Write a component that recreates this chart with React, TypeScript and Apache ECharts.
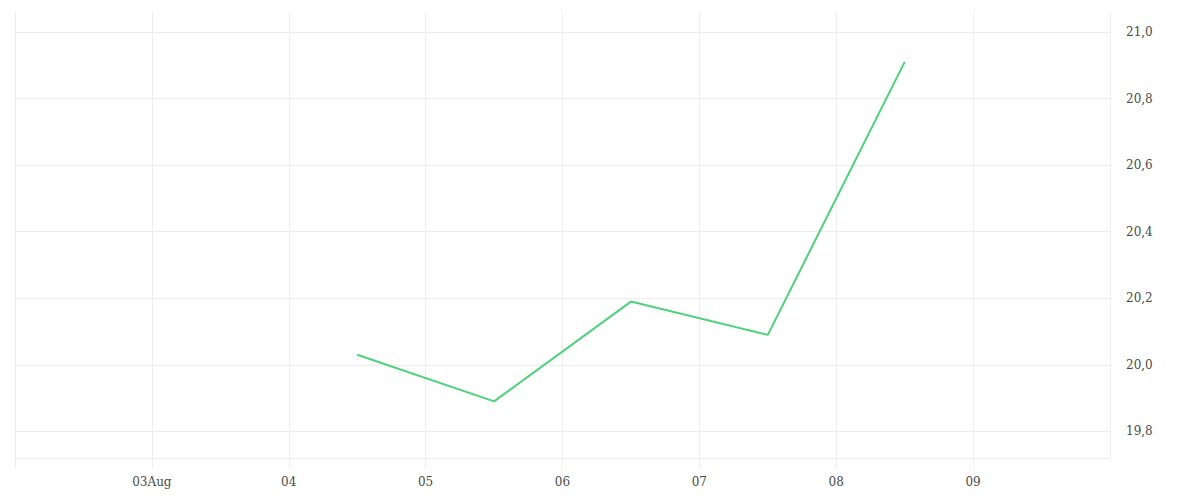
import React, { useEffect, useRef } from 'react'
import * as echarts from 'echarts'

// price points, taken at midday of each day
const pointTimes = ['2024-08-04 12:00', '2024-08-05 12:00', '2024-08-06 12:00', '2024-08-07 12:00', '2024-08-08 12:00']
const values = [20.03, 19.89, 20.19, 20.09, 20.91]

// visible range of the axes
const xStart = new Date(2024, 7, 2).getTime()
const xEnd = new Date(2024, 7, 10).getTime()
const firstLabelDay = new Date(2024, 7, 3).getTime()
const monthName = 'Aug'
const yMin = 19.72
const yMax = 21.06

const DAY = 24 * 3600 * 1000
const GRID_COLOR = '#eeeeee'
const LABEL_COLOR = '#4a4a4a'
const FONT = 'DejaVu Serif, serif'

const App: React.FC = () => {
    const chartRef = useRef<HTMLDivElement | null>(null)

    useEffect(() => {
        document.body.style.margin = '0'
        if (!chartRef.current) return
        const chart = echarts.init(chartRef.current, undefined, { renderer: 'svg' })

        chart.setOption({
            animation: false,
            grid: { left: 15, right: 90, top: 12, bottom: 42 },
            xAxis: {
                type: 'time',
                min: xStart,
                max: xEnd,
                splitNumber: 8,
                minInterval: DAY,
                maxInterval: DAY,
                axisLine: { show: false },
                axisTick: { show: true, length: 10, lineStyle: { color: GRID_COLOR } },
                splitLine: { show: true, lineStyle: { color: GRID_COLOR, width: 1 } },
                axisLabel: {
                    margin: 18,
                    color: LABEL_COLOR,
                    fontFamily: FONT,
                    fontSize: 12,
                    showMinLabel: false,
                    showMaxLabel: false,
                    formatter: (v: number) => {
                        // the edges of the range carry no label
                        if (v <= xStart || v >= xEnd) return ''
                        const d = new Date(v)
                        const dd = String(d.getDate()).padStart(2, '0')
                        return v === firstLabelDay ? dd + monthName : dd
                    },
                },
            },
            yAxis: {
                type: 'value',
                position: 'right',
                min: yMin,
                max: yMax,
                splitNumber: 7,
                minInterval: 0.2,
                maxInterval: 0.2,
                axisLine: { show: false },
                axisTick: { show: false },
                splitLine: { show: true, showMaxLine: false, lineStyle: { color: GRID_COLOR, width: 1 } },
                axisLabel: {
                    margin: 16,
                    color: LABEL_COLOR,
                    fontFamily: FONT,
                    fontSize: 12,
                    showMinLabel: false,
                    showMaxLabel: false,
                    formatter: (v: number) => v.toFixed(1).replace('.', ','),
                },
            },
            series: [
                {
                    type: 'line',
                    data: pointTimes.map((t, i) => [t, values[i]]),
                    showSymbol: false,
                    lineStyle: { color: '#4ed27a', width: 2 },
                },
            ],
        })

        return () => {
            chart.dispose()
        }
    }, [])

    return <div ref={chartRef} style={{ width: '1200px', height: '500px' }} />
}

export default App
